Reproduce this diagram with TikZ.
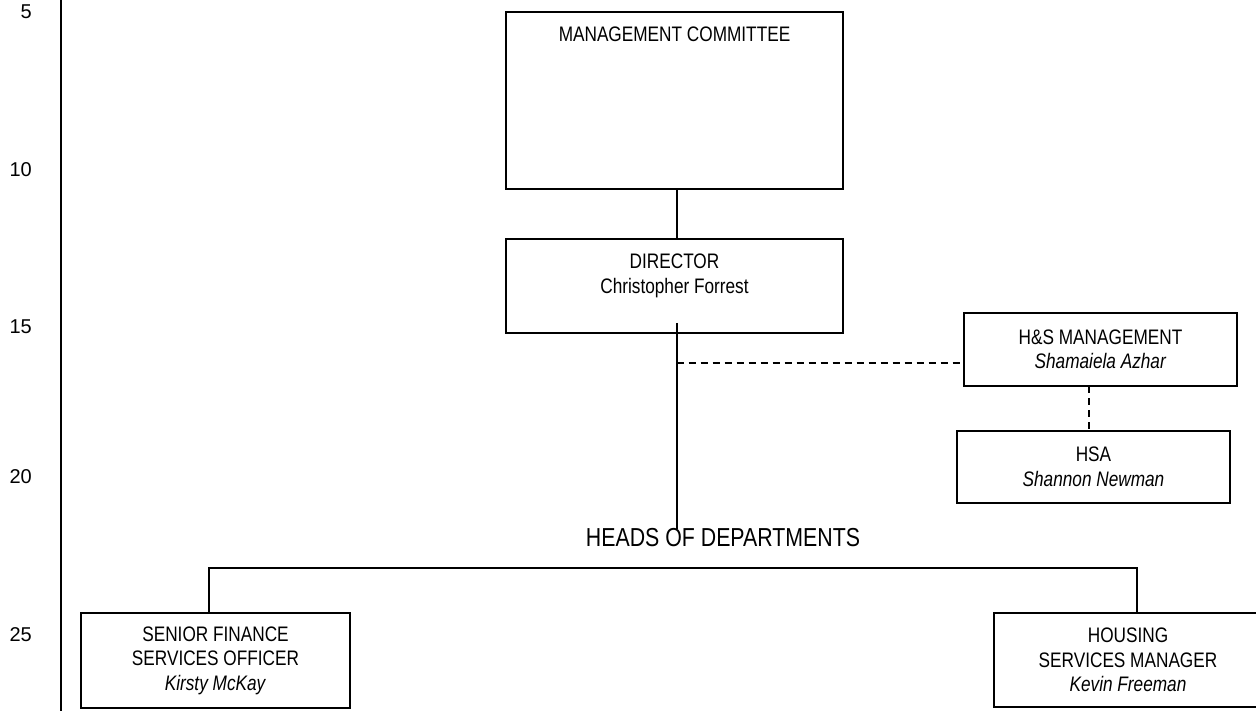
\documentclass[tikz,border=0pt]{standalone}
\usepackage{fontspec}
\setmainfont{Liberation Sans}[FakeStretch=0.82]
\newfontfamily\rulerfont{Liberation Sans}
\usetikzlibrary{positioning}
\tikzstyle{orgBox}=[draw, rectangle, line width=2pt, align=center, inner sep=0pt, font=\fontsize{21}{24.5}\selectfont]
\tikzstyle{orgLink}=[line width=2pt]
\tikzstyle{dottedLink}=[line width=2pt, dash pattern=on 7pt off 5pt]
\tikzstyle{rulerNum}=[anchor=east, inner sep=0pt, font=\rulerfont\fontsize{20}{24}\selectfont]

\begin{document}
\begin{tikzpicture}[x=1pt, y=1pt]
  \useasboundingbox (0,0) rectangle (1256,-711);

  % margin ruler
  \coordinate (rTop) at (60.5,0);
  \coordinate (rBot) at (60.5,-711);
  \draw[orgLink] (rTop) -- (rBot);
  \node[rulerNum] (n5) at (32,-12) {5};
  \node[rulerNum] (n10) at (32,-170) {10};
  \node[rulerNum] (n15) at (32,-327) {15};
  \node[rulerNum] (n20) at (32,-477) {20};
  \node[rulerNum] (n25) at (32,-635) {25};

  % boxes
  \node[orgBox, minimum width=337, minimum height=177] (mc) at (674.5,-100.5) {};
  \node[below=16pt of mc.north, inner sep=0pt, font=\fontsize{21}{24.5}\selectfont] (mcTitle) {MANAGEMENT COMMITTEE};
  \node[orgBox, minimum width=337, minimum height=94] (dir) at (674.5,-286) {DIRECTOR\\Christopher Forrest\\~};
  \node[orgBox, minimum width=273, minimum height=73] (hs) at (1100.5,-349.5) {H\&S MANAGEMENT\\\textit{Shamaiela Azhar}};
  \node[orgBox, minimum width=273, minimum height=72] (hsa) at (1093.5,-467) {HSA\\\textit{Shannon Newman}};
  \node[font=\fontsize{26}{30}\selectfont, inner sep=0pt] (hod) at (723,-538) {HEADS OF DEPARTMENTS};
  \node[orgBox, minimum width=269, minimum height=95] (sfso) at (215.5,-660.5) {SENIOR FINANCE\\SERVICES OFFICER\\\textit{Kirsty McKay}};
  \node[orgBox, minimum width=268, minimum height=94] (hsm) at (1128,-660) {HOUSING\\SERVICES MANAGER\\\textit{Kevin Freeman}};

  % links
  \coordinate (spine) at (676.5,-323);
  \draw[orgLink] (mc.south -| spine) -- (dir.north -| spine);
  \draw[orgLink] (spine) -- (spine |- hod.north);

  \coordinate (hsJoin) at (676.5,-363);
  \draw[dottedLink] (hsJoin) -- (hsJoin -| hs.west);
  \coordinate (hsDrop) at (1089,-386);
  \draw[dottedLink] (hsDrop) -- (hsDrop |- hsa.north);

  \coordinate (barL) at (209,-568);
  \coordinate (barR) at (1137,-568);
  \draw[orgLink] (sfso.north -| barL) -- (barL) -- (barR) -- (hsm.north -| barR);

\end{tikzpicture}
\end{document}
